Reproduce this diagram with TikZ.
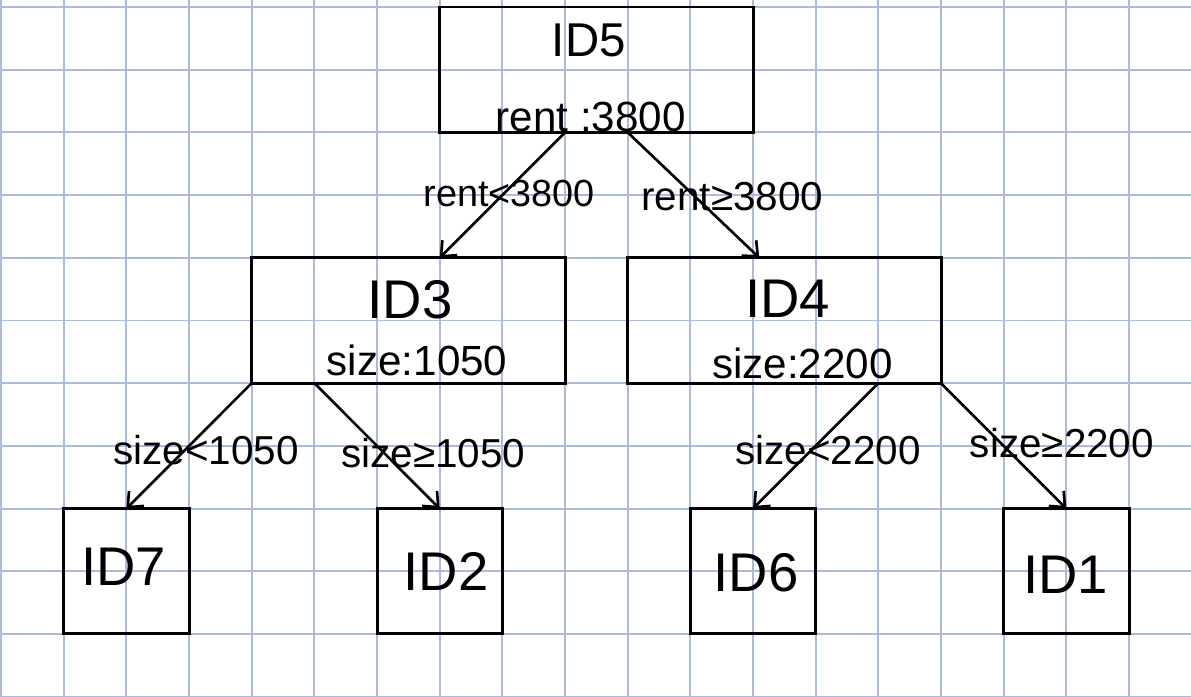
\documentclass[tikz,border=0pt]{standalone}
\usepackage{fontspec}
\setmainfont{Liberation Sans}
\usetikzlibrary{arrows.meta,calc,fit}
\definecolor{gridblue}{RGB}{172,187,214}
\begin{document}
\begin{tikzpicture}[x=1.2534cm,y=-1.254cm,
  box/.style={draw=black,line width=1.7pt,inner sep=0pt,outer sep=0pt},
  idtext/.style={inner sep=0pt,font=\fontsize{31}{34}\selectfont},
  attr/.style={inner sep=0pt,font=\fontsize{24}{27}\selectfont},
  elabel/.style={inner sep=0pt,font=\fontsize{23}{26}\selectfont},
  conn/.style={draw=black,line width=1.5pt,-{Straight Barb[length=7pt,width=12pt,line width=1.5pt]}}]
\useasboundingbox (-0.016,-0.1116) rectangle (18.989,11.005);
\fill[white] (-0.016,-0.1116) rectangle (18.989,11.005);
% grid
\foreach \i in {0,...,18} \draw[gridblue,line width=1.1pt] (\i,-0.1116) -- (\i,11.005);
\foreach \j in {0,...,11} \draw[gridblue,line width=1.1pt] (-0.016,\j) -- (18.989,\j);
% boxes
\node[box,fit={(7,0)(12,2)}] (ID5) {};
\node[box,fit={(4,4)(9,6)}] (ID3) {};
\node[box,fit={(10,4)(15,6)}] (ID4) {};
\node[box,fit={(1,8)(3,10)}] (ID7) {};
\node[box,fit={(6,8)(8,10)}] (ID2) {};
\node[box,fit={(11,8)(13,10)}] (ID6) {};
\node[box,fit={(16,8)(18,10)}] (ID1) {};
% texts
\node[idtext,font=\fontsize{27}{30}\selectfont] (t5) at (9.38,0.53) {ID5};
\node[attr] (a5) at (9.41,1.76) {rent :3800};
\node[idtext] (t3) at (6.53,4.67) {ID3};
\node[attr] (a3) at (6.64,5.63) {size:1050};
\node[idtext] (t4) at (12.55,4.66) {ID4};
\node[attr] (a4) at (12.79,5.68) {size:2200};
\node[idtext] (t7) at (1.96,8.92) {ID7};
\node[idtext] (t2) at (7.10,9.01) {ID2};
\node[idtext] (t6) at (12.05,9.03) {ID6};
\node[idtext] (t1) at (16.99,9.06) {ID1};
% connectors
\draw[conn] ($(ID5.south west)!0.4!(ID5.south east)$) -- ($(ID3.north west)!0.6!(ID3.north east)$);
\draw[conn] ($(ID5.south west)!0.6!(ID5.south east)$) -- ($(ID4.north west)!0.42!(ID4.north east)$);
\draw[conn] (ID3.south west) -- (ID7.north);
\draw[conn] ($(ID3.south west)!0.2!(ID3.south east)$) -- (ID2.north);
\draw[conn] ($(ID4.south west)!0.8!(ID4.south east)$) -- (ID6.north);
\draw[conn] (ID4.south east) -- (ID1.north);
% edge labels
\node[elabel,font=\fontsize{21.5}{24}\selectfont] (l1) at (8.11,2.97) {rent<3800};
\node[elabel] (l2) at (11.67,3.03) {rent≥3800};
\node[elabel] (l3) at (3.27,7.07) {size<1050};
\node[elabel] (l4) at (6.90,7.11) {size≥1050};
\node[elabel] (l5) at (13.20,7.07) {size<2200};
\node[elabel] (l6) at (16.93,6.95) {size≥2200};
\end{tikzpicture}
\end{document}
